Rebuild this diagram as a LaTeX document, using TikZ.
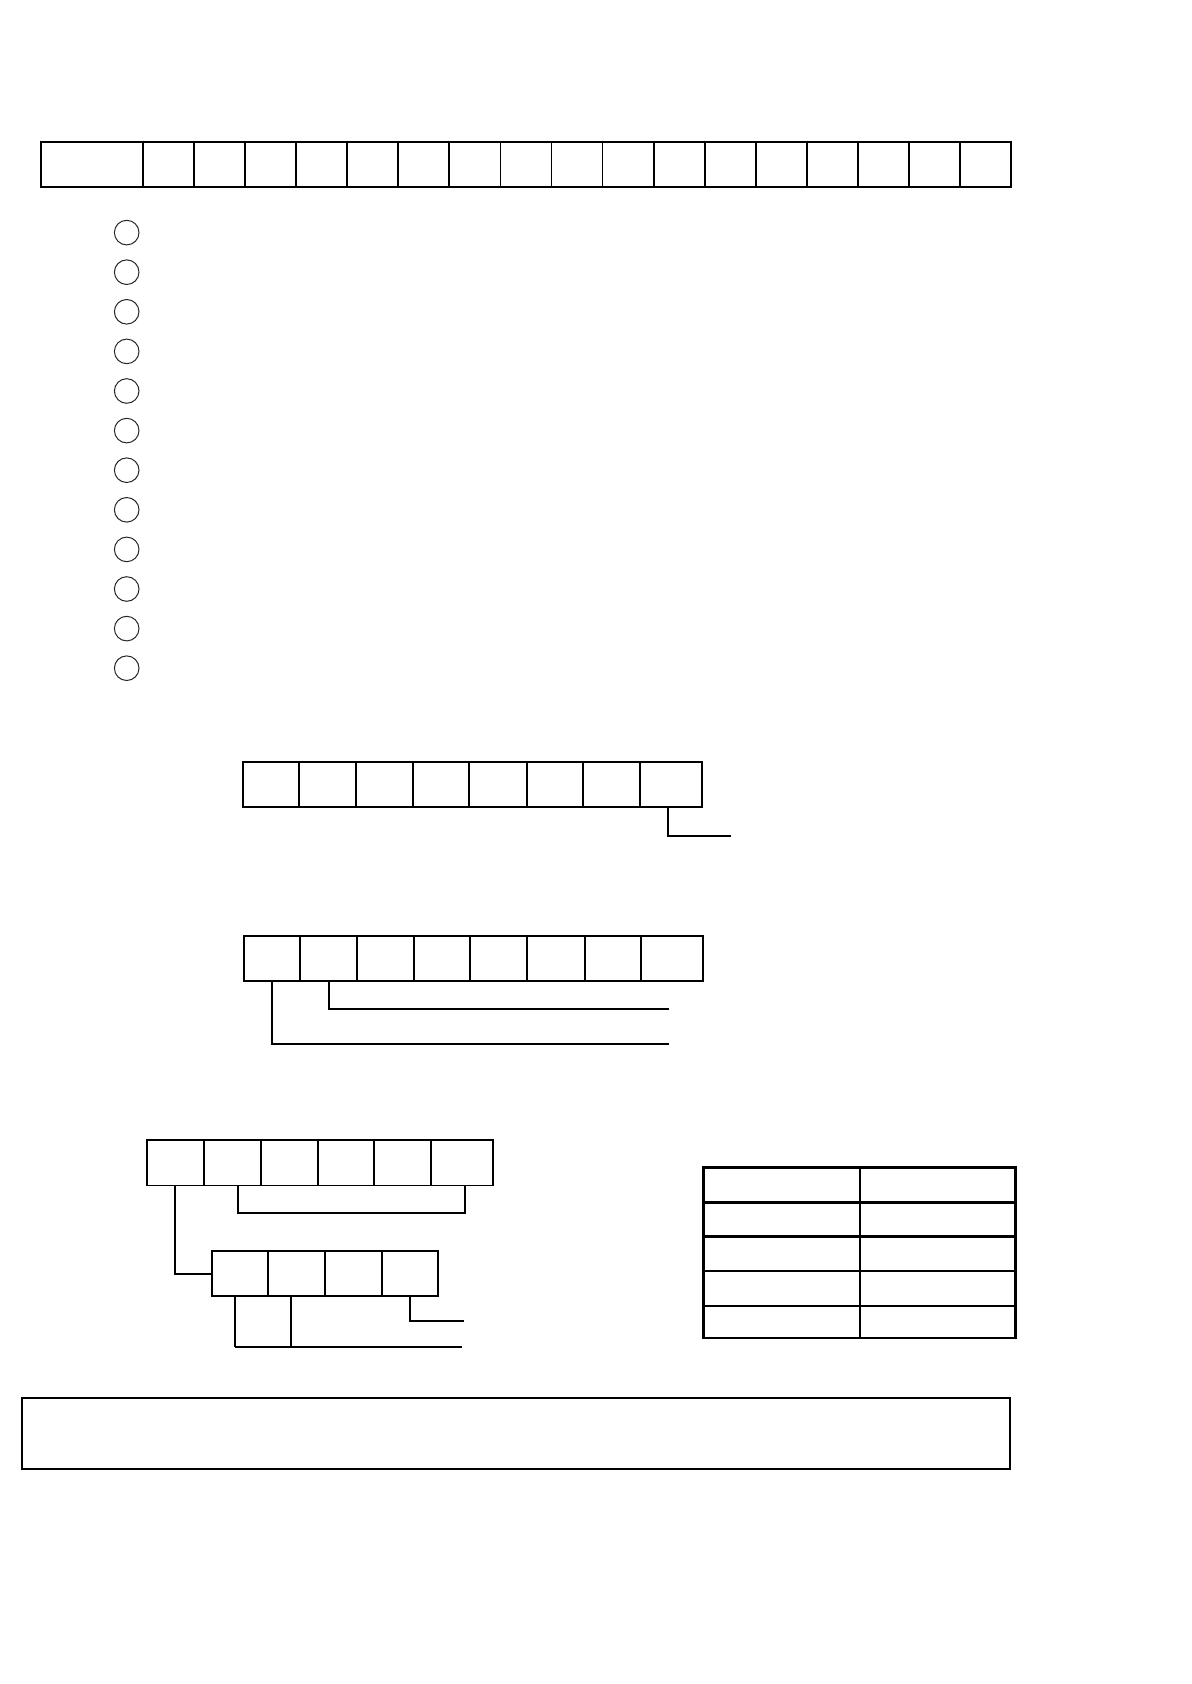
\documentclass[tikz,border=0pt]{standalone}
\usepackage{tikz}

\begin{document}
\begin{tikzpicture}[x=0.5pt, y=-0.5pt,
    cell/.style={rectangle, draw=black, line width=0.9pt, inner sep=0pt, outer sep=0pt, minimum height=22.6pt},
    ring/.style={circle, draw=black!85, line width=0.5pt, minimum size=12.3pt, inner sep=0pt},
    link/.style={draw=black, line width=1pt},
    tablerule/.style={draw=black, line width=1.2pt}
    ]
    \useasboundingbox (0,0) rectangle (1191,1684);

    % top row
    \node [cell, minimum width=51.15pt] (t0) at (91.85,164.35) {};
    \foreach \i in {1,...,17}
      \node [cell, minimum width=25.53pt] (t\i) at ({117.47+51.06*\i},164.35) {};

    % circles
    \foreach \i in {1,...,12}
      \node [ring] (r\i) at (126.7,{193+39.6*\i}) {};

    % first byte
    \node [cell, minimum width=28.15pt] (m1) at (270.85,784.5) {};
    \node [cell, minimum width=28.5pt]  (m2) at (327.5,784.5) {};
    \node [cell, minimum width=28.5pt]  (m3) at (384.5,784.5) {};
    \node [cell, minimum width=28.15pt] (m4) at (441.15,784.5) {};
    \node [cell, minimum width=29pt]    (m5) at (498.3,784.5) {};
    \node [cell, minimum width=27.7pt]  (m6) at (555,784.5) {};
    \node [cell, minimum width=28.8pt]  (m7) at (611.5,784.5) {};
    \node [cell, minimum width=31pt]    (m8) at (671.3,784.5) {};
    \coordinate (m8end) at (731,835.7);
    \draw [link] ([xshift=-1.6pt]m8.south) |- (m8end);

    % second byte
    \node [cell, minimum width=28.3pt]  (n1) at (272,958.35) {};
    \node [cell, minimum width=28.2pt]  (n2) at (328.5,958.35) {};
    \node [cell, minimum width=28.65pt] (n3) at (385.35,958.35) {};
    \node [cell, minimum width=28pt]    (n4) at (442,958.35) {};
    \node [cell, minimum width=28.5pt]  (n5) at (498.5,958.35) {};
    \node [cell, minimum width=28.85pt] (n6) at (555.85,958.35) {};
    \node [cell, minimum width=28.3pt]  (n7) at (613,958.35) {};
    \node [cell, minimum width=30.85pt] (n8) at (672.15,958.35) {};
    \coordinate (n1end) at (669.3,1043.7);
    \coordinate (n2end) at (669.3,1009.3);
    \draw [link] (n1.south) |- (n1end);
    \draw [link] (n2.south) |- (n2end);

    % lower group
    \node [cell, minimum width=28.35pt] (p1) at (175.35,1162.85) {};
    \node [cell, minimum width=28.5pt]  (p2) at (232.2,1162.85) {};
    \node [cell, minimum width=28.5pt]  (p3) at (289.2,1162.85) {};
    \node [cell, minimum width=28.3pt]  (p4) at (346,1162.85) {};
    \node [cell, minimum width=28.35pt] (p5) at (402.65,1162.85) {};
    \node [cell, minimum width=31pt]    (p6) at (462,1162.85) {};
    \draw [link] ([xshift=2.75pt]p2.south) -- ++(0,28) -| ([xshift=1.5pt]p6.south);

    \node [cell, minimum width=28.15pt] (q1) at (239.85,1273.5) {};
    \node [cell, minimum width=28.5pt]  (q2) at (296.5,1273.5) {};
    \node [cell, minimum width=28.5pt]  (q3) at (353.5,1273.5) {};
    \node [cell, minimum width=28.15pt] (q4) at (410.15,1273.5) {};
    \draw [link] (p1.south) |- (q1.west);

    \coordinate (q4end) at (463.7,1321);
    \coordinate (qend) at (462,1347);
    \draw [link] (q4.south) |- (q4end);
    \draw [link, line width=0.6pt] ([xshift=-2.4pt]q1.south) -- ([xshift=-2.4pt]q1.south |- qend);
    \draw [link] ([xshift=-2.4pt]q1.south |- qend) -- (qend);
    \draw [link] ([xshift=-2.6pt]q2.south) -- ([xshift=-2.6pt]q2.south |- qend);

    % table
    \draw [tablerule] (703.3,1167.3) rectangle (1015.3,1337.7);
    \draw [tablerule] (860,1167.3) -- (860,1337.7);
    \foreach \y in {1202.3,1236.3,1271,1305.7}
      \draw [tablerule] (703.3,\y) -- (1015.3,\y);

    % bottom box
    \node [cell, line width=1pt, minimum width=494.15pt, minimum height=35.5pt] (note) at (515.85,1433.2) {};
  \end{tikzpicture}
\end{document}
